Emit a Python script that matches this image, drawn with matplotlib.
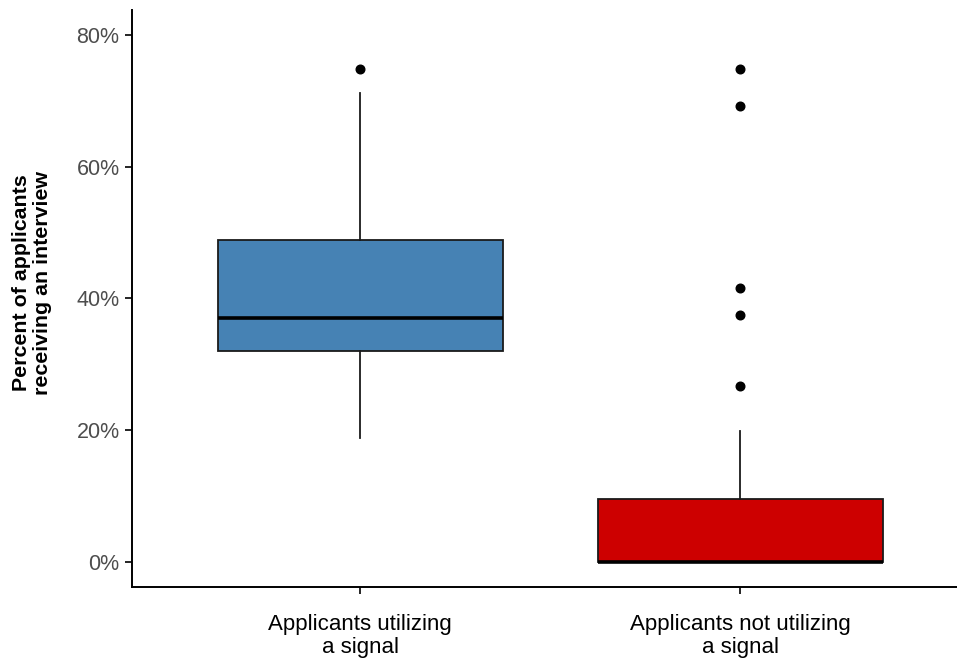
import matplotlib.pyplot as plt
from matplotlib.ticker import PercentFormatter

plt.rcParams["font.family"] = ["Liberation Sans", "DejaVu Sans"]

groups = ["Applicants utilizing\na signal", "Applicants not utilizing\na signal"]
colors = ["#4682B4", "#CD0000"]

q1 = [32.05, 0.0]
median = [36.98, 0.0]
q3 = [48.85, 9.53]
whisker_low = [18.8, 0.0]
whisker_high = [71.2, 19.9]
outliers = [[74.9], [74.9, 69.2, 41.6, 37.5, 26.7]]

stats = []
for i in range(len(groups)):
    stats.append({
        "q1": q1[i], "med": median[i], "q3": q3[i],
        "whislo": whisker_low[i], "whishi": whisker_high[i],
        "fliers": outliers[i], "label": groups[i],
    })

fig = plt.figure(figsize=(9.57, 6.6), dpi=100)
ax = fig.add_axes([132 / 957, (660 - 587.3) / 660, (968 - 132) / 957, (587.3 - 10) / 660])

bp = ax.bxp(
    stats, positions=[1, 2], widths=0.75, patch_artist=True, showcaps=False,
    boxprops=dict(edgecolor="#1a1a1a", linewidth=1.3),
    medianprops=dict(color="black", linewidth=2.6),
    whiskerprops=dict(color="#1a1a1a", linewidth=1.3),
    flierprops=dict(marker="o", markerfacecolor="black", markeredgecolor="black",
                    markersize=6.2, linestyle="none"),
)
for patch, c in zip(bp["boxes"], colors):
    patch.set_facecolor(c)

ax.set_xlim(0.4, 2.6)
ax.set_ylim(-3.89, 83.8)
ax.set_yticks([0, 20, 40, 60, 80])
ax.yaxis.set_major_formatter(PercentFormatter(decimals=0))
ax.set_xticks([1, 2])
ax.set_xticklabels(groups)

for side in ["top", "right"]:
    ax.spines[side].set_visible(False)
for side in ["left", "bottom"]:
    ax.spines[side].set_linewidth(1.4)
    ax.spines[side].set_color("black")

ax.tick_params(axis="y", labelsize=15.5, labelcolor="#4d4d4d", length=5, width=1.2, pad=4)
ax.tick_params(axis="x", labelsize=16, labelcolor="black", length=5, width=1.2, pad=14)
for lbl in ax.get_xticklabels():
    lbl.set_linespacing(1.15)

ax.set_ylabel("Percent of applicants\nreceiving an interview", fontsize=15.4, fontweight="bold",
              linespacing=1.15)
ax.yaxis.set_label_coords(-80 / (968 - 132), 0.527)

fig.savefig("out.png", dpi=100)
